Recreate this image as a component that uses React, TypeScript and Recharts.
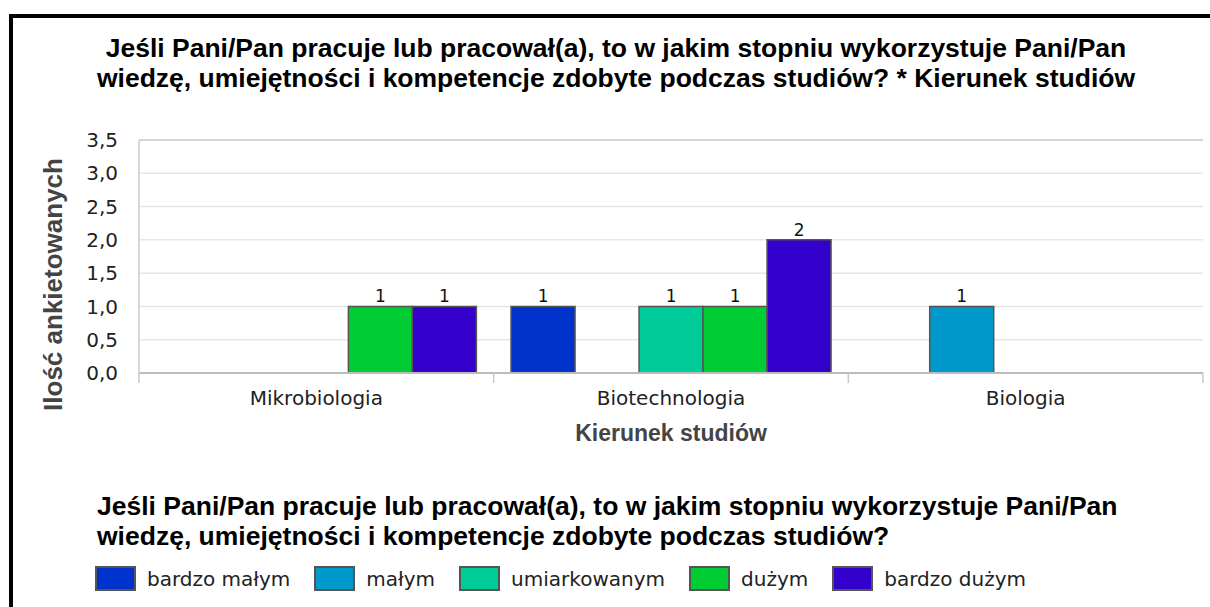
import { BarChart, Bar, XAxis, YAxis, CartesianGrid, LabelList, Label, ReferenceLine } from "recharts";

const categories = ["Mikrobiologia", "Biotechnologia", "Biologia"];
const seriesNames = ["bardzo małym", "małym", "umiarkowanym", "dużym", "bardzo dużym"];
const seriesColors = ["#0033cc", "#0099cc", "#00cc99", "#00cc33", "#3300cc"];

// counts per category (Mikrobiologia, Biotechnologia, Biologia)
const bardzoMalym = [0, 1, 0];
const malym = [0, 0, 1];
const umiarkowanym = [0, 1, 0];
const duzym = [1, 1, 0];
const bardzoDuzym = [1, 2, 0];
const seriesValues = [bardzoMalym, malym, umiarkowanym, duzym, bardzoDuzym];

const yTicks = [0, 0.5, 1, 1.5, 2, 2.5, 3, 3.5];

const titleLines = [
  "Jeśli Pani/Pan pracuje lub pracował(a), to w jakim stopniu wykorzystuje Pani/Pan",
  "wiedzę, umiejętności i kompetencje zdobyte podczas studiów? * Kierunek studiów",
];
const legendTitleLines = [
  "Jeśli Pani/Pan pracuje lub pracował(a), to w jakim stopniu wykorzystuje Pani/Pan",
  "wiedzę, umiejętności i kompetencje zdobyte podczas studiów?",
];
const xTitle = "Kierunek studiów";
const yTitle = "Ilość ankietowanych";

const data = categories.map((name, i) => {
  const row: Record<string, string | number> = { name };
  seriesValues.forEach((vals, s) => (row["s" + s] = vals[i]));
  return row;
});

const tickFont = { fontFamily: "DejaVu Sans", fontSize: 20, fill: "#222" };
const boldFont = "Liberation Sans, Arial, sans-serif";

// category label plus the little separator ticks between categories
function CategoryTick(props: any) {
  const { x, y, payload, index, visibleTicksCount, width } = props;
  const half = payload && payload.offset ? payload.offset : width / categories.length / 2;
  const last = index === visibleTicksCount - 1;
  return (
    <g>
      <line x1={x - half} x2={x - half} y1={y} y2={y + 10} stroke="#c8c8c8" strokeWidth={1.5} />
      {last && <line x1={x + half} x2={x + half} y1={y} y2={y + 10} stroke="#c8c8c8" strokeWidth={1.5} />}
      <text x={x} y={y + 32} textAnchor="middle" style={tickFont}>
        {payload.value}
      </text>
    </g>
  );
}

export default function App() {
  return (
    <div style={{ position: "absolute", left: 0, top: 0, width: 1210, height: 607, overflow: "hidden", background: "#fff" }}>
      <div style={{ position: "absolute", left: 9, top: 14, width: 1214, height: 640, border: "4px solid #000", boxSizing: "border-box" }} />
      <div style={{ position: "absolute", left: 0, top: 0 }}>
        <BarChart
          width={1210}
          height={607}
          data={data}
          margin={{ top: 140, right: 7, left: 79, bottom: 154 }}
          barCategoryGap="4.9%"
          barGap={0}
        >
          <CartesianGrid vertical={false} stroke="#e6e6e6" strokeWidth={1.5} />
          <XAxis
            dataKey="name"
            height={80}
            tickLine={false}
            tickSize={0}
            tickMargin={0}
            axisLine={{ stroke: "#bbb", strokeWidth: 2 }}
            tick={<CategoryTick />}
            interval={0}
          >
            <Label
              value={xTitle}
              position="insideTop"
              offset={52}
              style={{ fontFamily: boldFont, fontWeight: "bold", fontSize: 23, fill: "#444" }}
            />
          </XAxis>
          <YAxis
            domain={[0, 3.5]}
            ticks={yTicks}
            width={60}
            tickLine={false}
            tickSize={0}
            tickMargin={21}
            axisLine={{ stroke: "#ccc", strokeWidth: 1.5 }}
            tick={tickFont}
            tickFormatter={(v: number) => v.toFixed(1).replace(".", ",")}
          >
            <Label
              content={(props: any) => {
                const vb = props.viewBox || {};
                const cx = vb.x - 26;
                const cy = vb.y + vb.height / 2 + 28;
                return (
                  <text
                    x={cx}
                    y={cy}
                    transform={`rotate(-90 ${cx} ${cy})`}
                    textAnchor="middle"
                    dominantBaseline="central"
                    style={{ fontFamily: boldFont, fontWeight: "bold", fontSize: 26, fill: "#444" }}
                  >
                    {yTitle}
                  </text>
                );
              }}
            />
          </YAxis>
          <YAxis yAxisId="r" orientation="right" domain={[0, 3.5]} width={0} tick={false} tickLine={false} axisLine={{ stroke: "#ccc", strokeWidth: 1.5 }} />
          <ReferenceLine y={3.5} stroke="#ccc" strokeWidth={1.5} />
          {seriesNames.map((n, s) => (
            <Bar key={n} dataKey={"s" + s} name={n} fill={seriesColors[s]} stroke="#555" strokeWidth={1.5} isAnimationActive={false}>
              <LabelList
                dataKey={"s" + s}
                position="top"
                offset={4}
                formatter={(v: any) => (v ? v : "")}
                style={{ fontFamily: "DejaVu Sans", fontSize: 17, fill: "#111" }}
              />
            </Bar>
          ))}
        </BarChart>
      </div>
      <div style={{ position: "absolute", left: 9, width: 1214, top: 33, textAlign: "center", fontFamily: boldFont, fontWeight: "bold", fontSize: 26.5, lineHeight: "30px", color: "#000" }}>
        {titleLines.map((l) => (
          <div key={l}>{l}</div>
        ))}
      </div>
      <div style={{ position: "absolute", left: 97, top: 491, fontFamily: boldFont, fontWeight: "bold", fontSize: 26.5, lineHeight: "30px", color: "#000", whiteSpace: "nowrap" }}>
        {legendTitleLines.map((l) => (
          <div key={l}>{l}</div>
        ))}
      </div>
      <div style={{ position: "absolute", left: 95, top: 566, display: "flex", alignItems: "center", fontFamily: "DejaVu Sans", fontSize: 20, color: "#222", whiteSpace: "nowrap" }}>
        {seriesNames.map((n, s) => (
          <div key={n} style={{ display: "flex", alignItems: "center", marginRight: 24 }}>
            <span style={{ display: "inline-block", width: 41, height: 25, background: seriesColors[s], border: "2px solid #555", boxSizing: "border-box", marginRight: 11 }} />
            <span>{n}</span>
          </div>
        ))}
      </div>
    </div>
  );
}
